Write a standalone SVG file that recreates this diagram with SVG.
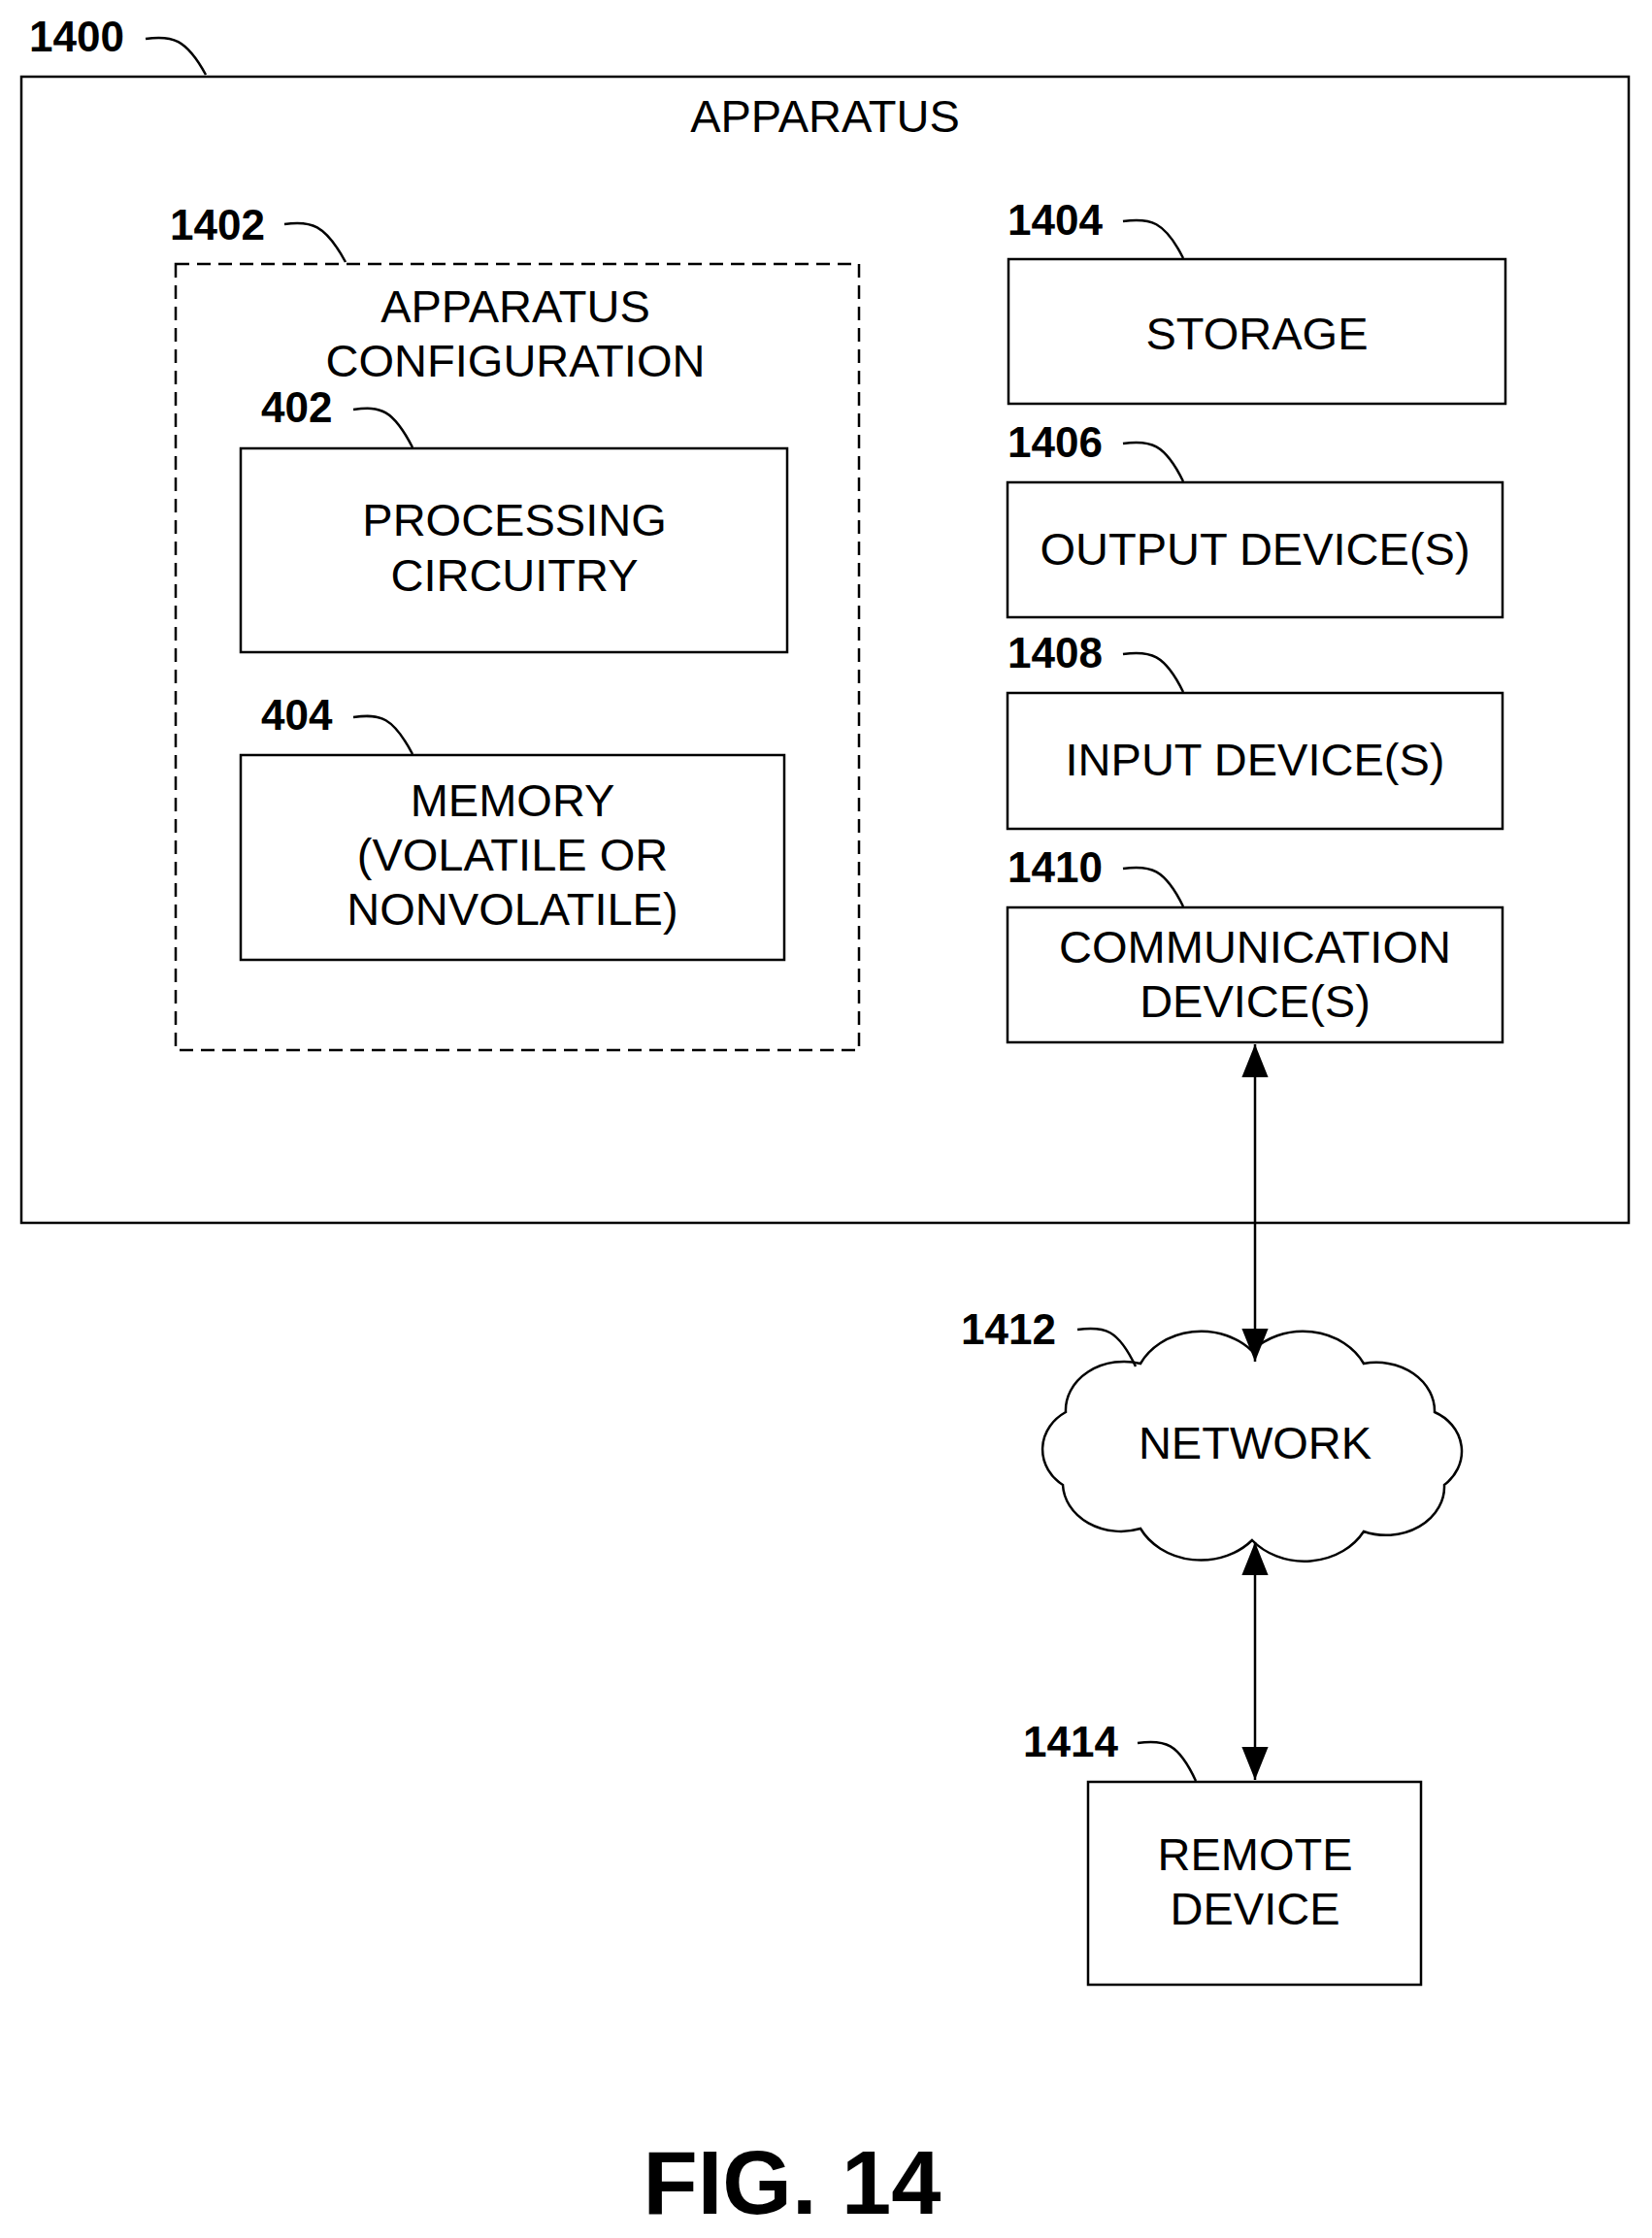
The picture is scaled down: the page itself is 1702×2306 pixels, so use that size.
<svg xmlns="http://www.w3.org/2000/svg" width="1702" height="2306" viewBox="0 0 1702 2306">
<style>
rect,path.b{fill:none;stroke:#000;stroke-width:2.5}
.t{font-family:"Liberation Sans",Arial,sans-serif;font-size:47px;text-anchor:middle;fill:#000}
.n{font-family:"Liberation Sans",Arial,sans-serif;font-size:44px;font-weight:bold;fill:#000}
.l{fill:none;stroke:#000;stroke-width:2.5}
</style>
<defs>
<marker id="a" viewBox="0 0 10 10" refX="10" refY="5" markerWidth="34" markerHeight="34" markerUnits="userSpaceOnUse" orient="auto-start-reverse"><path d="M0,1 L10,5 L0,9 Z" fill="#000"/></marker>
</defs>
<rect width="1702" height="2306" fill="#fff" style="stroke:none"/>
<g id="apparatus">
<rect x="22" y="79" width="1656" height="1181"/>
<text class="t" x="850" y="136">APPARATUS</text>
<text class="n" x="30" y="53">1400</text>
<path class="l" d="M150,40 C177,36 192,40 212,77"/>
</g>
<g id="config">
<rect x="181" y="272" width="704" height="810" stroke-dasharray="14,8"/>
<text class="t" x="531" y="332">APPARATUS</text>
<text class="t" x="531" y="388">CONFIGURATION</text>
<text class="n" x="175" y="247">1402</text>
<path class="l" d="M293,231 C320,227 335,231 356,270"/>
</g>
<g id="processing">
<rect x="248" y="462" width="563" height="210"/>
<text class="t" x="530" y="552">PROCESSING</text>
<text class="t" x="530" y="609">CIRCUITRY</text>
<text class="n" x="269" y="435">402</text>
<path class="l" d="M364,422 C392,418 405,422 425,461"/>
</g>
<g id="memory">
<rect x="248" y="778" width="560" height="211"/>
<text class="t" x="528" y="841">MEMORY</text>
<text class="t" x="528" y="897">(VOLATILE OR</text>
<text class="t" x="528" y="953">NONVOLATILE)</text>
<text class="n" x="269" y="752">404</text>
<path class="l" d="M364,739 C392,735 405,739 425,777"/>
</g>
<g id="storage">
<rect x="1039" y="267" width="512" height="149"/>
<text class="t" x="1295" y="360">STORAGE</text>
<text class="n" x="1038" y="242">1404</text>
<path class="l" d="M1157,228 C1185,224 1200,228 1219,266"/>
</g>
<g id="output">
<rect x="1038" y="497" width="510" height="139"/>
<text class="t" x="1293" y="582">OUTPUT DEVICE(S)</text>
<text class="n" x="1038" y="471">1406</text>
<path class="l" d="M1157,457 C1185,453 1200,457 1219,496"/>
</g>
<g id="input">
<rect x="1038" y="714" width="510" height="140"/>
<text class="t" x="1293" y="799">INPUT DEVICE(S)</text>
<text class="n" x="1038" y="688">1408</text>
<path class="l" d="M1157,674 C1185,670 1200,674 1219,713"/>
</g>
<g id="communication">
<rect x="1038" y="935" width="510" height="139"/>
<text class="t" x="1293" y="992">COMMUNICATION</text>
<text class="t" x="1293" y="1048">DEVICE(S)</text>
<text class="n" x="1038" y="909">1410</text>
<path class="l" d="M1157,895 C1185,891 1200,895 1219,934"/>
</g>
<g id="network">
<path class="b" d="M1098,1455 A60,50 0 0 1 1175,1405 A70,60 0 0 1 1290,1392 A70,60 0 0 1 1405,1405 A60,50 0 0 1 1478,1455 A50,45 0 0 1 1488,1530 A60,50 0 0 1 1405,1578 A70,60 0 0 1 1290,1587 A70,60 0 0 1 1175,1575 A60,50 0 0 1 1095,1530 A50,45 0 0 1 1098,1455 Z"/>
<text class="t" x="1293" y="1503">NETWORK</text>
<text class="n" x="990" y="1385">1412</text>
<path class="l" d="M1110,1370 C1138,1366 1152,1370 1170,1408"/>
</g>
<g id="remote">
<rect x="1121" y="1836" width="343" height="209"/>
<text class="t" x="1293" y="1927">REMOTE</text>
<text class="t" x="1293" y="1983">DEVICE</text>
<text class="n" x="1054" y="1810">1414</text>
<path class="l" d="M1172,1796 C1200,1792 1214,1796 1232,1835"/>
</g>
<g id="connectors">
<line class="l" x1="1293" y1="1076" x2="1293" y2="1403" marker-start="url(#a)" marker-end="url(#a)"/>
<line class="l" x1="1293" y1="1589" x2="1293" y2="1834" marker-start="url(#a)" marker-end="url(#a)"/>
</g>
<text x="816" y="2281" style="font-family:'Liberation Sans',Arial,sans-serif;font-size:92px;font-weight:bold;text-anchor:middle">FIG. 14</text>
</svg>
